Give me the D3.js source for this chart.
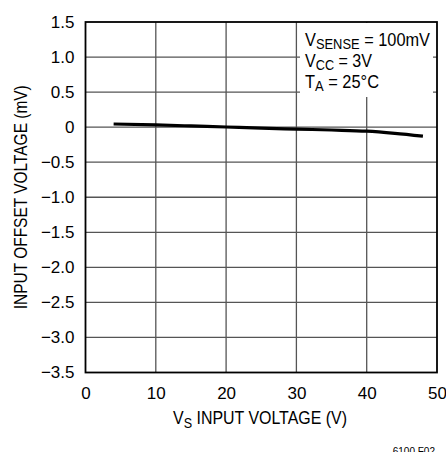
<!DOCTYPE html>
<html>
<head>
<meta charset="utf-8">
<script src="https://cdn.jsdelivr.net/npm/d3@7"></script>
<style>
  body { margin: 0; background: #fff; }
  svg { display: block; font-family: "Liberation Sans", Arial, sans-serif; }
</style>
</head>
<body>
<svg width="446" height="452"></svg>
<script>
// input voltage (V) vs input offset voltage (mV)
var vsInput = [4, 10, 15, 20, 25, 30, 35, 40, 44, 48];
var offsetMv = [0.045, 0.032, 0.017, 0.002, -0.014, -0.028, -0.041, -0.057, -0.088, -0.128];

var xTicks = [0, 10, 20, 30, 40, 50];
var yTicks = [1.5, 1.0, 0.5, 0, -0.5, -1.0, -1.5, -2.0, -2.5, -3.0, -3.5];

var svg = d3.select('svg');

// plot frame (note: "top" is taken by window.top, so prefix these)
var plotLeft = 85.5, plotRight = 437, plotTop = 22, plotBottom = 372.5;

var xScale = d3.scaleLinear().domain([0, 50]).range([plotLeft, plotRight]);
var yScale = d3.scaleLinear().domain([-3.5, 1.5]).range([plotBottom, plotTop]);

///////////////////// GRID ////////////////////
svg.append("g")
    .selectAll("line")
    .data(xTicks.slice(1, -1))
    .enter().append("line")
    .attr("x1", d => xScale(d)).attr("x2", d => xScale(d))
    .attr("y1", plotTop).attr("y2", plotBottom)
    .attr("stroke", "#555").attr("stroke-width", 1.3);

svg.append("g")
    .selectAll("line")
    .data(yTicks.slice(1, -1))
    .enter().append("line")
    .attr("x1", plotLeft).attr("x2", plotRight)
    .attr("y1", d => yScale(d)).attr("y2", d => yScale(d))
    .attr("stroke", "#555").attr("stroke-width", 1.3);

// white box behind the conditions text
svg.append("rect")
    .attr("x", 300).attr("y", plotTop + 1)
    .attr("width", 133).attr("height", 74)
    .attr("fill", "#fff");

///////////////////// CURVE ////////////////////
var line = d3.line()
    .x((d, i) => xScale(vsInput[i]))
    .y(d => yScale(d))
    .curve(d3.curveMonotoneX);

svg.append("path")
    .datum(offsetMv)
    .attr("d", line)
    .attr("fill", "none")
    .attr("stroke", "#000")
    .attr("stroke-width", 3.2);

// frame
svg.append("rect")
    .attr("x", plotLeft).attr("y", plotTop)
    .attr("width", plotRight - plotLeft).attr("height", plotBottom - plotTop)
    .attr("fill", "none").attr("stroke", "#000").attr("stroke-width", 1.8);

///////////////////// AXES ////////////////////
var xAxis = d3.axisBottom(xScale).tickValues(xTicks).tickSize(0).tickPadding(14)
    .tickFormat(d3.format("d"));
svg.append("g")
    .attr("class", "xaxis")
    .attr("transform", "translate(0," + plotBottom + ")")
    .call(xAxis)
    .call(g => g.select(".domain").remove());

var yAxis = d3.axisLeft(yScale).tickValues(yTicks).tickSize(0).tickPadding(11)
    .tickFormat(d => d === 0 ? "0" : d3.format(".1f")(d).replace("-", "\u2212"));
svg.append("g")
    .attr("class", "yaxis")
    .attr("transform", "translate(" + plotLeft + ",0)")
    .call(yAxis)
    .call(g => g.select(".domain").remove());

svg.selectAll(".xaxis text, .yaxis text")
    .attr("font-family", "Liberation Sans, Arial, sans-serif")
    .attr("font-size", "17px")
    .attr("fill", "#000");

///////////////////// TITLES ////////////////////
var xTitle = svg.append("text")
    .attr("x", 173).attr("y", 424)
    .attr("font-size", "19px")
    .attr("textLength", 174).attr("lengthAdjust", "spacingAndGlyphs");
xTitle.append("tspan").text("V");
xTitle.append("tspan").attr("dy", 4).attr("font-size", "15px").text("S");
xTitle.append("tspan").attr("dy", -4).text(" INPUT VOLTAGE (V)");

svg.append("text")
    .attr("text-anchor", "middle")
    .attr("font-size", "19px")
    .attr("transform", "translate(27," + ((plotTop + plotBottom) / 2) + ")rotate(-90)")
    .attr("textLength", 224).attr("lengthAdjust", "spacingAndGlyphs")
    .text("INPUT OFFSET VOLTAGE (mV)");

///////////////////// CONDITIONS ////////////////////
var conds = [
    { main: "V", sub: "SENSE", rest: " = 100mV", len: 125 },
    { main: "V", sub: "CC", rest: " = 3V", len: 67 },
    { main: "T", sub: "A", rest: " = 25\u00B0C", len: 74 }
];

conds.forEach(function (c, i) {
    var t = svg.append("text")
        .attr("x", 305).attr("y", 46 + i * 21)
        .attr("font-size", "19px")
        .attr("textLength", c.len).attr("lengthAdjust", "spacingAndGlyphs");
    t.append("tspan").text(c.main);
    t.append("tspan").attr("dy", 3).attr("font-size", "15px").text(c.sub);
    t.append("tspan").attr("dy", -3).text(c.rest);
});

svg.append("text")
    .attr("x", 435).attr("y", 455)
    .attr("text-anchor", "end")
    .attr("font-size", "10px")
    .text("6100 F02");
</script>
</body>
</html>
